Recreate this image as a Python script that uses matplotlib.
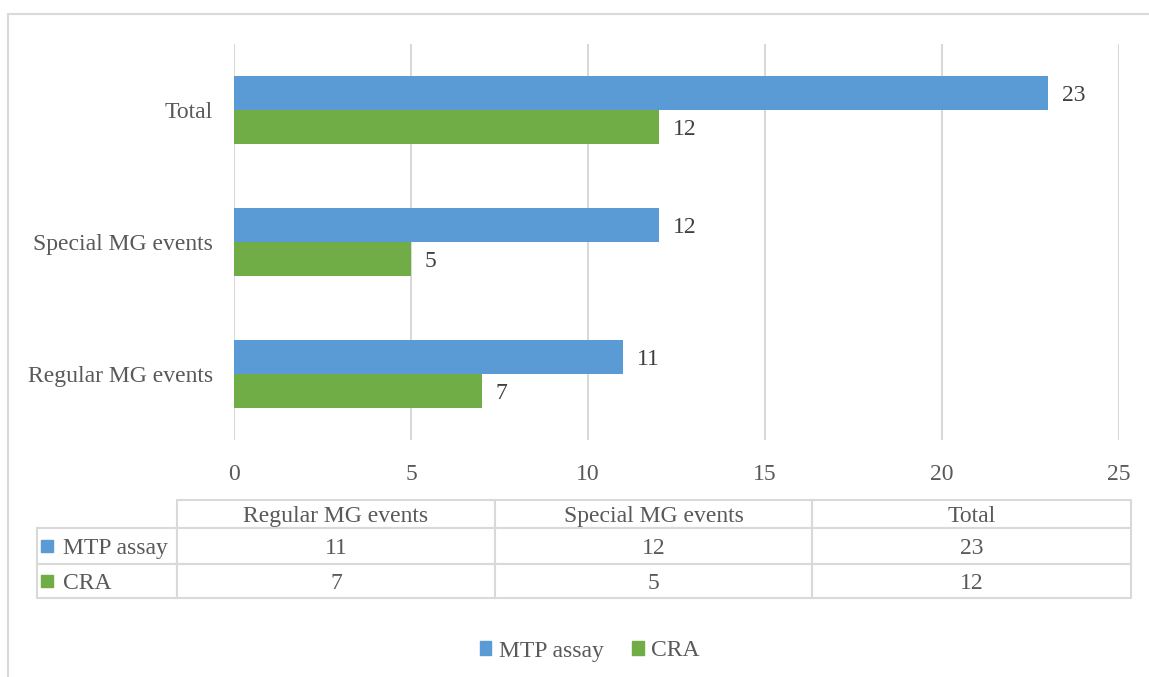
import numpy as np
import matplotlib
matplotlib.use('Agg')
import matplotlib.pyplot as plt
from matplotlib.patches import Rectangle, Patch

plt.rcParams['font.family'] = ['Liberation Serif', 'DejaVu Serif']

# data
categories = ["Regular MG events", "Special MG events", "Total"]
series_names = ["MTP assay", "CRA"]
mtp_values = [11, 12, 23]
cra_values = [7, 5, 12]
x_ticks = [0, 5, 10, 15, 20, 25]

BLUE = "#5B9BD5"
GREEN = "#70AD47"
GRID = "#D9D9D9"
LABEL = "#595959"
VALUE = "#404040"
FS = 17

W, H = 1149, 677
fig = plt.figure(figsize=(W / 100, H / 100), dpi=100)


def frac(x0, y0, x1, y1):
    """pixel box (top-left origin) -> figure fraction [l, b, w, h]"""
    return [x0 / W, 1 - y1 / H, (x1 - x0) / W, (y1 - y0) / H]


# outer chart frame
fig.add_artist(Rectangle((8 / W, -0.02), 1.0, 1 - 14 / H + 0.02,
                         transform=fig.transFigure, fill=False,
                         edgecolor=GRID, lw=1.5))

# ── bar chart ──
ax = fig.add_axes(frac(234, 44, 1119, 440))
y = np.arange(len(categories))
bh = 0.26
b1 = ax.barh(y + bh / 2, mtp_values, height=bh, color=BLUE, zorder=3)
b2 = ax.barh(y - bh / 2, cra_values, height=bh, color=GREEN, zorder=3)
for bars, vals in ((b1, mtp_values), (b2, cra_values)):
    for bar, v in zip(bars, vals):
        ax.annotate(str(v), (v, bar.get_y() + bar.get_height() / 2),
                    xytext=(10, 0), textcoords="offset points",
                    ha="left", va="center_baseline", fontsize=FS, color=VALUE)

ax.set_xlim(0, 25)
ax.set_ylim(-0.5, len(categories) - 0.5)
ax.set_xticks(x_ticks)
ax.set_yticks(y)
ax.set_yticklabels(categories)
ax.xaxis.grid(True, color=GRID, lw=1.5, zorder=0)
ax.tick_params(axis="both", length=0, labelsize=FS, labelcolor=LABEL)
ax.tick_params(axis="x", pad=17)
ax.tick_params(axis="y", pad=15)
for s in ax.spines.values():
    s.set_visible(False)

# ── data table ──
tx0, ty0, tx1, ty1 = 37, 500, 1131, 598
row_px = [28, 36, 34]
tab_ax = fig.add_axes(frac(tx0, ty0, tx1, ty1))
tab_ax.axis("off")
cells = [[""] + categories]
for name, vals in zip(series_names, (mtp_values, cra_values)):
    cells.append([name] + [str(v) for v in vals])
col_w = np.array([140, 318, 317, 319], dtype=float)
col_w /= col_w.sum()
tab = tab_ax.table(cellText=cells, colWidths=list(col_w), cellLoc="center",
                   bbox=[0, 0, 1, 1])
tab.auto_set_font_size(False)
tab.set_fontsize(FS)
for (r, c), cell in tab.get_celld().items():
    cell.set_height(row_px[r] / sum(row_px))
    cell.set_edgecolor(GRID)
    cell.set_linewidth(1.5)
    cell.get_text().set_color(LABEL)
    cell.get_text().set_va("center_baseline")
    if r == 0 and c == 0:
        cell.visible_edges = "open"
    elif c == 0:
        cell.get_text().set_ha("left")
        cell.PAD = 0.185

# legend keys inside the table label column
for i, col in enumerate((BLUE, GREEN)):
    cy = ty0 + sum(row_px[:i + 1]) + row_px[i + 1] / 2
    fig.add_artist(Rectangle(((tx0 + 4) / W, 1 - (cy + 6) / H), 12 / W, 12 / H,
                             transform=fig.transFigure, color=col))

# ── legend ──
handles = [Patch(color=BLUE), Patch(color=GREEN)]
fig.legend(handles, series_names, loc="center", bbox_to_anchor=(0.513, 1 - 651 / H),
           ncol=2, frameon=False, fontsize=FS, labelcolor=LABEL,
           handlelength=0.5, handleheight=0.5, handletextpad=0.3,
           columnspacing=1.2)

fig.savefig("out.png", dpi=100)
